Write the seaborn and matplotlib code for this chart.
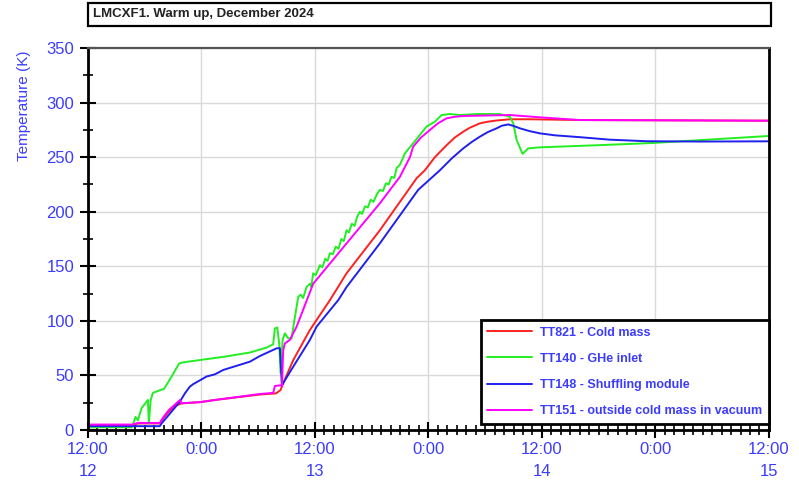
import matplotlib
matplotlib.use("Agg")
import matplotlib.pyplot as plt
from matplotlib.patches import Rectangle
from matplotlib.ticker import MultipleLocator, FixedLocator
import seaborn as sns
import pandas as pd

# Time axis: hours since 12 Dec 2024, 12:00
x_ticks = [0, 12, 24, 36, 48, 60, 72]
x_tick_labels = ["12:00\n12", "0:00", "12:00\n13", "0:00", "12:00\n14", "0:00", "12:00\n15"]
y_ticks = [0, 50, 100, 150, 200, 250, 300, 350]

series_names = ["TT821 - Cold mass", "TT140 - GHe inlet",
                "TT148 - Shuffling module", "TT151 - outside cold mass in vacuum"]

# TT821 - Cold mass
tt821_h = [0, 4.65, 5.3, 7.6, 8.0, 8.53, 9.2, 9.91, 11.84, 13.43, 18.19, 19.88, 20.37,
           20.65, 21.71, 23.47, 25.59, 27.35, 30.87, 34.75, 35.63, 36.69, 37.93, 38.8,
           39.68, 40.39, 41.45, 42.29, 43.21, 44.62, 46.73, 52.02, 72]
tt821_t = [4, 4, 6, 6, 11, 16.5, 22, 24.4, 25.5, 27.5, 32.5, 33.5, 36.6,
           42.8, 64, 91.6, 119, 143.6, 183, 230.6, 238, 250, 261, 268,
           273.3, 277, 281, 282.5, 283.6, 284.7, 284.7, 284, 283.4]

# TT140 - GHe inlet
tt140_h = [0, 4.65, 4.76, 5.04, 5.29, 5.68, 6.21, 6.34, 6.45, 6.63, 6.87, 7.79, 8.04,
           8.85, 9.65, 10.08, 14.31, 17.13, 18.89, 19.59, 19.77, 20.02, 20.23, 20.37,
           20.59, 20.83, 21.18, 21.54, 21.78, 22.24, 22.5, 22.76, 23.12, 23.47, 23.62,
           23.82, 24.1, 24.53, 24.8, 25.1, 25.35, 25.59, 25.9, 26.2, 26.5, 26.8, 27.05,
           27.35, 27.6, 27.9, 28.2, 28.45, 28.76, 29.0, 29.3, 29.6, 29.9, 30.2, 30.55,
           30.87, 31.2, 31.5, 31.8, 32.1, 32.4, 32.64, 32.99, 33.52, 34.39, 35.81, 36.69,
           37.4, 38.28, 39.33, 41.1, 43.56, 44.62, 44.97, 45.33, 45.96, 46.55, 47.79,
           54.13, 59.77, 72]
tt140_t = [2.5, 2.5, 4.6, 12, 9, 20, 26, 27.5, 6, 27, 34, 37, 37.5,
           49, 61, 62, 67, 71, 75.5, 78.5, 93, 94, 79, 52,
           82.5, 88.6, 84, 84, 97.7, 122, 124, 121, 131, 134, 131,
           143.6, 142, 151, 149, 157, 155, 162, 161, 168, 166, 175, 173,
           183, 181, 189, 187, 195, 200, 198, 205, 204, 211, 209, 216,
           220, 219, 226, 225, 232, 231, 240, 243, 253.5, 262.7, 278, 282.5,
           288.6, 289.5, 288.6, 289.5, 289.5, 287, 281, 265.7, 253, 258, 259,
           261, 263, 269.4]

# TT148 - Shuffling module
tt148_h = [0, 7.6, 7.79, 8.67, 9.73, 10.26, 10.78, 11.13, 12.55, 13.43, 14.31, 17.13,
           18.19, 19.95, 20.3, 20.51, 21.71, 23.47, 24.18, 26.47, 27.35, 30.87, 34.92,
           37.22, 38.49, 39.68, 40.6, 41.45, 42.29, 43.21, 43.77, 44.44, 45.04, 45.68,
           46.73, 47.79, 49.38, 52.02, 55.19, 59.07, 64.7, 72]
tt148_t = [3.5, 3.5, 6, 15, 26, 33.6, 39.7, 42, 49, 51, 55, 62.6,
           67.8, 74.8, 75, 41, 58, 82.5, 94.7, 119, 131, 171, 220,
           238, 249, 258, 264, 268.8, 273, 276.4, 278.8, 280, 278.5, 276.4,
           273.8, 271.8, 270, 268.3, 266, 264.6, 264.3, 264.5]

# TT151 - outside cold mass in vacuum
tt151_h = [0, 4.65, 5.3, 7.6, 8.0, 8.53, 9.73, 9.9, 11.84, 13.43, 18.19, 19.59, 19.77,
           20.37, 20.51, 20.65, 20.83, 21.35, 22.07, 23.82, 27.35, 30.87, 32.99, 34.05,
           34.39, 35.22, 36.16, 37.01, 37.93, 38.8, 39.68, 44.62, 47.79, 52.02, 72]
tt151_t = [5, 5, 6.5, 6.5, 12, 18, 27.5, 24.5, 25.5, 27.5, 33, 34, 40.3,
           41, 40, 73, 79.4, 82.5, 94.7, 134, 171, 207.7, 232, 250,
           259.6, 268, 274.9, 281, 285.6, 287, 287.7, 288.6, 286.5, 284, 283.4]

line_colors = ["#ff2020", "#22ee22", "#2020ee", "#ff00ff"]
text_blue = "#3c3cff"

sns.set_style("white")
plt.rcParams["font.family"] = ["Liberation Sans", "DejaVu Sans"]

fig = plt.figure(figsize=(7.99, 4.84), dpi=100)
ax = fig.add_axes([0.110, 0.1116, 0.8523, 0.7892])

for name, hx, ty, col in zip(series_names,
                             [tt821_h, tt140_h, tt148_h, tt151_h],
                             [tt821_t, tt140_t, tt148_t, tt151_t],
                             line_colors):
    df = pd.DataFrame({"hours": hx, "temp": ty})
    sns.lineplot(data=df, x="hours", y="temp", color=col, lw=1.4, label=name,
                 sort=False, ax=ax)

ax.set_xlim(0, 72)
ax.set_ylim(0, 350)
ax.xaxis.set_major_locator(FixedLocator(x_ticks))
ax.set_xticklabels(x_tick_labels)
ax.xaxis.set_minor_locator(MultipleLocator(1))
ax.yaxis.set_major_locator(FixedLocator(y_ticks))
ax.yaxis.set_minor_locator(MultipleLocator(25))

ax.grid(True, which="major", color="#d9d9d9", lw=1.0)
ax.set_axisbelow(True)

ax.tick_params(which="both", bottom=True, left=True, top=False, right=False)
ax.tick_params(axis="both", which="major", direction="inout", length=12, width=1.5,
               color="black", labelcolor=text_blue, labelsize=12)
ax.tick_params(axis="both", which="minor", direction="inout", length=7, width=1.2,
               color="black")
ax.tick_params(axis="x", which="major", pad=3)
ax.tick_params(axis="y", which="major", pad=4)
for lab in ax.get_xticklabels():
    lab.set_linespacing(1.55)

for side in ["left", "bottom", "right"]:
    ax.spines[side].set_color("black")
    ax.spines[side].set_linewidth(2)
ax.spines["top"].set_color("#555555")
ax.spines["top"].set_linewidth(1.6)

ax.set_xlabel("")
ax.set_ylabel("Temperature (K)", color=text_blue, fontsize=11)
ax.yaxis.set_label_coords(-0.084, 0.848)

leg = ax.legend(loc="lower right", bbox_to_anchor=(1.0, 0.0157), borderaxespad=0,
                fancybox=False, framealpha=1, edgecolor="black",
                prop={"weight": "bold", "size": 9}, handlelength=3.6,
                handletextpad=0.6, labelspacing=1.13, borderpad=0.55)
leg.get_frame().set_linewidth(2)
for t in leg.get_texts():
    t.set_color(text_blue)

# Header box
fig.patches.append(Rectangle((88 / 799, 1 - 26 / 484), (771 - 88) / 799, 23 / 484,
                             transform=fig.transFigure, fill=False, lw=1.6,
                             ec="black"))
fig.text(93 / 799, 1 - 14.5 / 484, "LMCXF1. Warm up, December 2024",
         fontsize=9.5, fontweight="bold", color="#222222", va="center", ha="left")

fig.savefig("out.png", dpi=100)
